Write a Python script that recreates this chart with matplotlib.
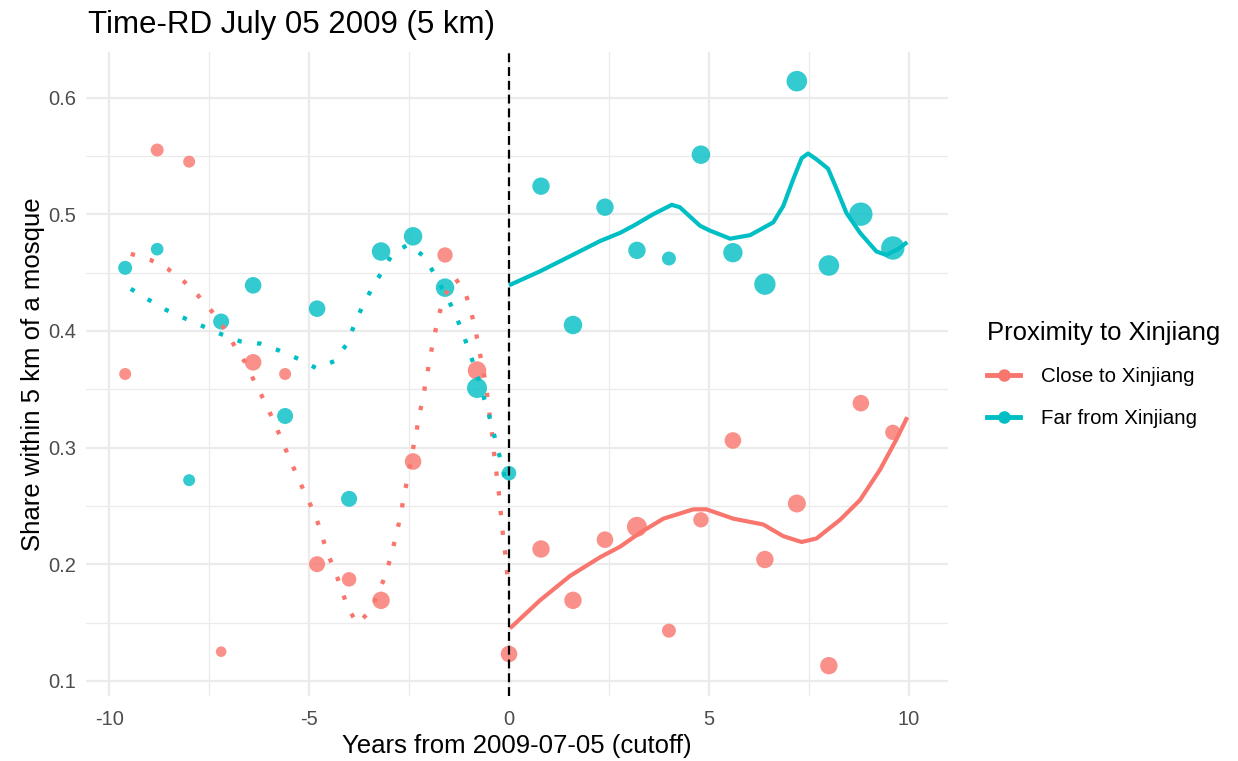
import matplotlib.pyplot as plt
import numpy as np
from matplotlib.lines import Line2D

plt.rcParams['font.family'] = ['Liberation Sans', 'DejaVu Sans']

# binned means (bin width 0.8 years)
x_left = [-9.6, -8.8, -8.0, -7.2, -6.4, -5.6, -4.8, -4.0, -3.2, -2.4, -1.6, -0.8, 0.0]
x_right = [0.8, 1.6, 2.4, 3.2, 4.0, 4.8, 5.6, 6.4, 7.2, 8.0, 8.8, 9.6]

close_left = [0.363, 0.555, 0.545, 0.125, 0.373, 0.363, 0.200, 0.187, 0.169, 0.288, 0.465, 0.366, 0.123]
far_left = [0.454, 0.470, 0.272, 0.408, 0.439, 0.327, 0.419, 0.256, 0.468, 0.481, 0.437, 0.351, 0.278]
close_right = [0.213, 0.169, 0.221, 0.232, 0.143, 0.238, 0.306, 0.204, 0.252, 0.113, 0.338, 0.313]
far_right = [0.524, 0.405, 0.506, 0.469, 0.462, 0.551, 0.467, 0.440, 0.614, 0.456, 0.500, 0.471]

# observations per bin (point size)
n_close_left = [36, 42, 36, 28, 69, 36, 64, 53, 76, 69, 59, 86, 69]
n_far_left = [49, 40, 36, 64, 69, 64, 69, 64, 86, 86, 86, 100, 53]
n_close_right = [76, 76, 69, 100, 49, 59, 69, 76, 81, 76, 69, 59]
n_far_right = [76, 86, 76, 76, 49, 86, 94, 114, 106, 106, 137, 137]

# smoothed fits, pre-cutoff (dotted)
fit_close_left_x = [-9.46, -8.98, -8.53, -8.12, -7.77, -7.44, -7.14, -6.88, -6.6, -6.375, -6.15, -5.93,
                    -5.73, -5.53, -5.33, -5.12, -4.9, -4.72, -4.58, -4.39, -4.21, -4.05, -3.8, -3.46,
                    -3.08, -2.94, -2.82, -2.71, -2.62, -2.52, -2.43, -2.33, -2.24, -2.14, -2.05, -1.96,
                    -1.86, -1.75, -1.61, -1.34, -1.075, -0.93, -0.825, -0.725, -0.63, -0.55, -0.49,
                    -0.425, -0.37, -0.31, -0.25, -0.2, -0.15, -0.09, -0.04]
fit_close_left_y = [0.466, 0.461, 0.453, 0.442, 0.430, 0.417, 0.403, 0.388, 0.373, 0.357, 0.342, 0.326,
                    0.310, 0.294, 0.278, 0.262, 0.246, 0.230, 0.213, 0.197, 0.181, 0.164, 0.149, 0.160,
                    0.191, 0.209, 0.225, 0.242, 0.260, 0.276, 0.294, 0.311, 0.328, 0.345, 0.362, 0.380,
                    0.397, 0.414, 0.430, 0.445, 0.431, 0.414, 0.398, 0.380, 0.364, 0.346, 0.329,
                    0.312, 0.294, 0.277, 0.260, 0.242, 0.225, 0.208, 0.190]
fit_far_left_x = [-9.46, -9.03, -8.58, -8.13, -7.66, -7.19, -6.72, -6.22, -5.74, -5.27, -4.82, -4.37,
                  -4.07, -3.88, -3.68, -3.45, -3.19, -2.93, -2.53, -2.13, -1.87, -1.62, -1.39, -1.2,
                  -1.03, -0.86, -0.725, -0.57, -0.43, -0.31, -0.175, -0.07]
fit_far_left_y = [0.436, 0.427, 0.418, 0.411, 0.404, 0.397, 0.391, 0.389, 0.383, 0.376, 0.368, 0.374,
                  0.388, 0.404, 0.420, 0.435, 0.450, 0.465, 0.474, 0.464, 0.449, 0.433, 0.418, 0.402,
                  0.386, 0.369, 0.354, 0.336, 0.319, 0.302, 0.285, 0.267]

# smoothed fits, post-cutoff (solid)
fit_close_right_x = [0.025, 0.775, 1.53, 2.28, 2.78, 3.28, 3.86, 4.61, 4.94, 5.61, 6.36, 6.86, 7.32,
                     7.69, 8.28, 8.78, 9.28, 9.69, 9.96]
fit_close_right_y = [0.145, 0.169, 0.190, 0.206, 0.215, 0.227, 0.239, 0.247, 0.247, 0.239, 0.234, 0.224,
                     0.219, 0.222, 0.238, 0.255, 0.281, 0.307, 0.326]
fit_far_right_x = [0.0, 0.775, 1.53, 2.28, 2.78, 3.11, 3.61, 4.07, 4.27, 4.78, 5.02, 5.53, 6.03, 6.61,
                   6.86, 7.11, 7.32, 7.48, 7.69, 7.98, 8.19, 8.44, 8.78, 9.19, 9.44, 9.73, 9.96]
fit_far_right_y = [0.439, 0.451, 0.464, 0.477, 0.484, 0.490, 0.500, 0.508, 0.506, 0.490, 0.486, 0.479,
                   0.482, 0.493, 0.507, 0.530, 0.548, 0.552, 0.547, 0.539, 0.522, 0.501, 0.484, 0.468,
                   0.465, 0.470, 0.476]

RED = '#F8766D'
TEAL = '#00BFC4'


def size_scale(n):
    # area proportional to count
    return np.asarray(n) * 2.07


fig = plt.figure(figsize=(12.38, 7.61), dpi=100)
ax = fig.add_axes([86 / 1238, 65 / 761, 862 / 1238, 644 / 761])

ax.set_xlim(-10.58, 10.98)
ax.set_ylim(0.087, 0.639)
ax.set_xticks([-10, -5, 0, 5, 10])
ax.set_xticklabels(['-10', '-5', '0', '5', '10'])
ax.set_yticks([0.1, 0.2, 0.3, 0.4, 0.5, 0.6])
ax.set_xticks([-7.5, -2.5, 2.5, 7.5], minor=True)
ax.set_yticks([0.15, 0.25, 0.35, 0.45, 0.55], minor=True)
ax.grid(True, which='major', color='#EBEBEB', lw=1.6)
ax.grid(True, which='minor', color='#EBEBEB', lw=0.9)
ax.set_axisbelow(True)
for s in ax.spines.values():
    s.set_visible(False)
ax.tick_params(which='both', length=0, labelsize=14.5, labelcolor='#4D4D4D')
ax.tick_params(axis='x', pad=10)
ax.tick_params(axis='y', pad=7)

for xs, ys, ns, c in [(x_left, close_left, n_close_left, RED),
                      (x_left, far_left, n_far_left, TEAL),
                      (x_right, close_right, n_close_right, RED),
                      (x_right, far_right, n_far_right, TEAL)]:
    ax.scatter(xs, ys, s=size_scale(ns), color=c, alpha=0.8, lw=0, zorder=3)

ax.plot(fit_close_left_x, fit_close_left_y, color=RED, lw=3.1, ls=(0, (1, 3.6)),
        dash_capstyle='butt', zorder=4)
ax.plot(fit_far_left_x, fit_far_left_y, color=TEAL, lw=3.1, ls=(0, (1, 3.6)),
        dash_capstyle='butt', zorder=4)
ax.plot(fit_close_right_x, fit_close_right_y, color=RED, lw=3, zorder=4,
        solid_capstyle='butt')
ax.plot(fit_far_right_x, fit_far_right_y, color=TEAL, lw=3, zorder=4,
        solid_capstyle='butt')

ax.axvline(0, color='black', lw=1.6, ls=(0, (4, 2.2)), zorder=5)

ax.set_xlabel('Years from 2009-07-05 (cutoff)', fontsize=18.5, labelpad=4)
ax.set_ylabel('Share within 5 km of a mosque', fontsize=18.5, labelpad=2)
fig.text(88 / 1238, 1 - 25 / 761, 'Time-RD July 05 2009 (5 km)', fontsize=22.5, va='center', ha='left')

handles = [Line2D([], [], color=RED, lw=3.5, marker='o', ms=8),
           Line2D([], [], color=TEAL, lw=3.5, marker='o', ms=8)]
leg = fig.legend(handles, ['Close to Xinjiang', 'Far from Xinjiang'],
                 title='Proximity to Xinjiang', loc='center left',
                 bbox_to_anchor=(0.7825, 0.508), frameon=False, fontsize=14.8,
                 title_fontsize=18.5, handlelength=1.6, labelspacing=1.1,
                 handletextpad=1.0, alignment='left')

fig.savefig('out.png', dpi=100, facecolor='white')
